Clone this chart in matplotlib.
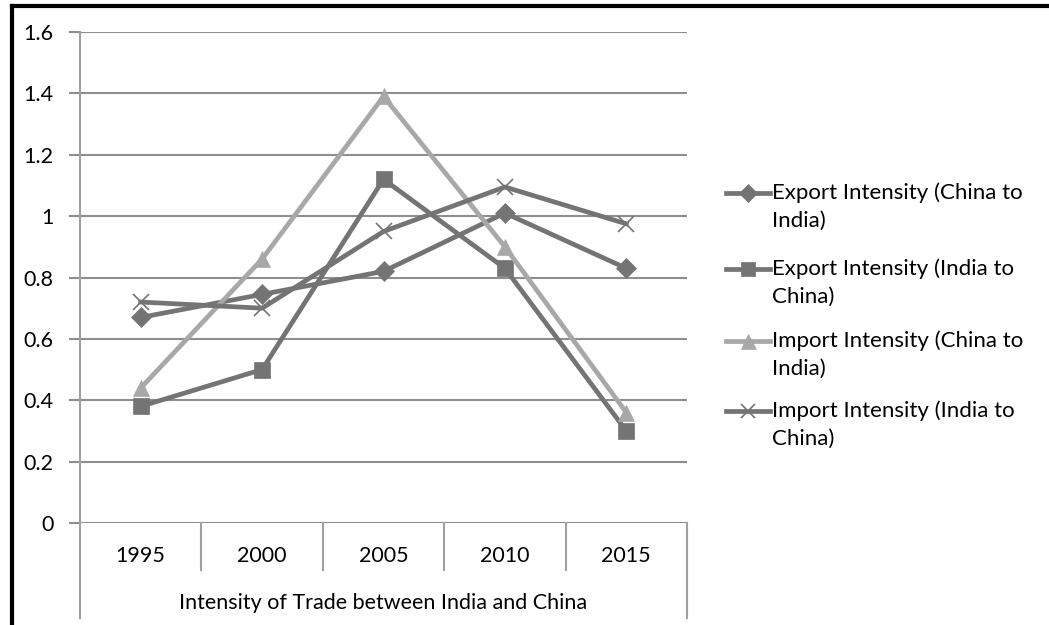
import matplotlib
matplotlib.use('Agg')
from matplotlib import pyplot as plt
from matplotlib.lines import Line2D

years = ['1995', '2000', '2005', '2010', '2015']
export_china_india = [0.67, 0.745, 0.82, 1.01, 0.83]
export_india_china = [0.38, 0.50, 1.12, 0.83, 0.30]
import_china_india = [0.44, 0.86, 1.39, 0.90, 0.36]
import_india_china = [0.72, 0.70, 0.95, 1.095, 0.975]
labels = ['Export Intensity (China to\nIndia)',
          'Export Intensity (India to\nChina)',
          'Import Intensity (China to\nIndia)',
          'Import Intensity (India to\nChina)']
group_label = 'Intensity of Trade between India and China'

dark = '#747474'
light = '#a8a8a8'
grid_col = '#8e8e8e'
plt.rcParams['font.family'] = ['Lato', 'DejaVu Sans']
fs = 15.5

fig = plt.figure(figsize=(10.49, 6.25), dpi=100)
W, H = 1049, 625
ax = fig.add_axes([80 / W, 1 - 523 / H, 607 / W, 491 / H])

series = [
	(export_china_india, dark, 'D', 10),
	(export_india_china, dark, 's', 11),
	(import_china_india, light, '^', 12),
	(import_india_china, dark, 'x', 11),
]
x = list(range(len(years)))
for vals, col, mk, ms in series:
	ax.plot(x, vals, color=col, lw=3.4, marker=mk, markersize=ms,
		markeredgecolor=col, markeredgewidth=1.2 if mk == 'x' else 0.5,
		zorder=3)

ax.set_xlim(-0.5, 4.5)
ax.set_ylim(0, 1.6)
ax.set_yticks([0, 0.2, 0.4, 0.6, 0.8, 1.0, 1.2, 1.4, 1.6])
ax.set_yticklabels(['0', '0.2', '0.4', '0.6', '0.8', '1', '1.2', '1.4', '1.6'])
ax.yaxis.grid(True, color=grid_col, lw=1.5)
ax.set_axisbelow(True)
ax.tick_params(axis='y', length=8, width=1.5, color=grid_col,
	labelsize=fs, pad=11)
ax.tick_params(axis='x', length=0, labelbottom=False)
for s in ['top', 'right', 'bottom']:
	ax.spines[s].set_visible(False)
ax.spines['left'].set_color('#a0a0a0')
ax.spines['left'].set_linewidth(1.5)

# two level category axis
tr = ax.get_xaxis_transform()
for b in [0.5, 1.5, 2.5, 3.5]:
	ax.plot([b, b], [0, -0.096], color='#a0a0a0', lw=1.5, transform=tr,
		clip_on=False)
for b in [-0.5, 4.5]:
	ax.plot([b, b], [0, -0.193], color='#a0a0a0', lw=1.5, transform=tr,
		clip_on=False)
for i, yr in enumerate(years):
	ax.text(i, -0.067, yr, transform=tr, ha='center', va='center', fontsize=fs)
ax.text(2, -0.163, group_label, transform=tr, ha='center', va='center',
	fontsize=fs)

# legend drawn at the right
leg_y = [193, 269, 341, 411]
for (vals, col, mk, ms), lab, yy in zip(series, labels, leg_y):
	fy = 1 - yy / H
	fig.add_artist(Line2D([726 / W, 770 / W], [fy, fy], color=col, lw=3.4))
	fig.add_artist(Line2D([748 / W], [fy], color=col, marker=mk,
		markersize=ms * 0.9, markeredgecolor=col,
		markeredgewidth=1.2 if mk == 'x' else 0.5))
	for k, part in enumerate(lab.split('\n')):
		fig.text(772 / W, 1 - (yy + 28 * k) / H, part, ha='left',
			va='center', fontsize=fs + 0.5)

# outer frame (top and left only)
fig.add_artist(Line2D([12 / W, 1], [1 - 6 / H, 1 - 6 / H], color='black', lw=3))
fig.add_artist(Line2D([12 / W, 12 / W], [0, 1 - 6 / H], color='black', lw=3))

fig.savefig('out.png', dpi=100)
